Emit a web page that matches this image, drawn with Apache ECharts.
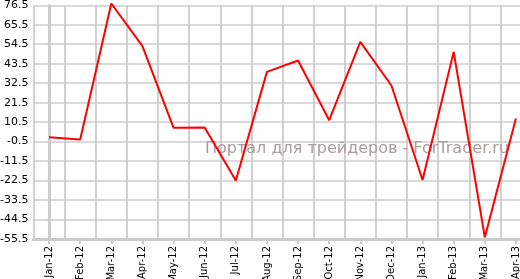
<!DOCTYPE html>
<html><head><meta charset="utf-8">
<script src="https://cdn.jsdelivr.net/npm/echarts@6/dist/echarts.min.js"></script>
<style>html,body{margin:0;padding:0;background:#fff}#c{width:520px;height:279px}</style>
</head><body><div id="c"></div>
<script>
const categories = ["Jan-12","Feb-12","Mar-12","Apr-12","May-12","Jun-12","Jul-12","Aug-12","Sep-12","Oct-12","Nov-12","Dec-12","Jan-13","Feb-13","Mar-13","Apr-13"];
const values = [2.0, 0.7, 77.5, 53.4, 7.3, 7.5, -22.5, 38.9, 45.3, 11.6, 55.8, 31.2, -22.2, 50.2, -54.5, 12.6];
const axisMin = -55.5;
const axisMax = 76.5;
const axisStep = 11;

const chart = echarts.init(document.getElementById('c'), null, {renderer: 'canvas'});
chart.setOption({
  animation: false,
  backgroundColor: '#ffffff',
  grid: {left: 33.5, top: 5.3, width: 498, height: 233.7, containLabel: false, outerBoundsMode: 'none'},
  xAxis: [{
    type: 'category',
    data: categories,
    boundaryGap: true,
    position: 'bottom',
    z: 3,
    axisLine: {show: true, lineStyle: {color: '#cccccc', width: 3}},
    axisTick: {show: true, alignWithLabel: true, length: 5, lineStyle: {color: '#cccccc', width: 2}},
    splitLine: {show: false},
    axisLabel: {rotate: 90, margin: 7, color: '#000', fontFamily: 'DejaVu Sans', fontSize: 10, interval: 0}
  }, {
    type: 'value',
    position: 'top',
    min: -0.5,
    max: categories.length - 0.5,
    interval: 1,
    z: 0,
    axisLine: {show: false},
    axisTick: {show: false},
    axisLabel: {show: false},
    splitLine: {show: true, lineStyle: {color: '#d0d0d0', width: 2}}
  }],
  yAxis: {
    type: 'value',
    min: 0,
    max: axisMax - axisMin,
    interval: axisStep,
    z: 1,
    axisLine: {show: true, lineStyle: {color: '#cccccc', width: 3}},
    axisTick: {show: true, length: 3, lineStyle: {color: '#cccccc'}},
    splitLine: {show: true, lineStyle: {color: '#cccccc', width: 1.5}},
    axisLabel: {margin: 5, color: '#000', fontFamily: 'DejaVu Sans', fontSize: 11,
      formatter: v => (v + axisMin).toFixed(1)}
  },
  graphic: [{
    type: 'text', left: 205, top: 141, z: 2,
    style: {text: 'Портал для трейдеров - ForTrader.ru', fill: '#a99d9d', font: '16px "DejaVu Sans"'}
  }],
  series: [{
    type: 'line',
    data: values.map(v => v - axisMin),
    xAxisIndex: 0,
    clip: false,
    symbol: 'none',
    z: 5,
    lineStyle: {color: '#ff0000', width: 2},
    itemStyle: {color: '#ff0000'}
  }]
});
</script></body></html>
